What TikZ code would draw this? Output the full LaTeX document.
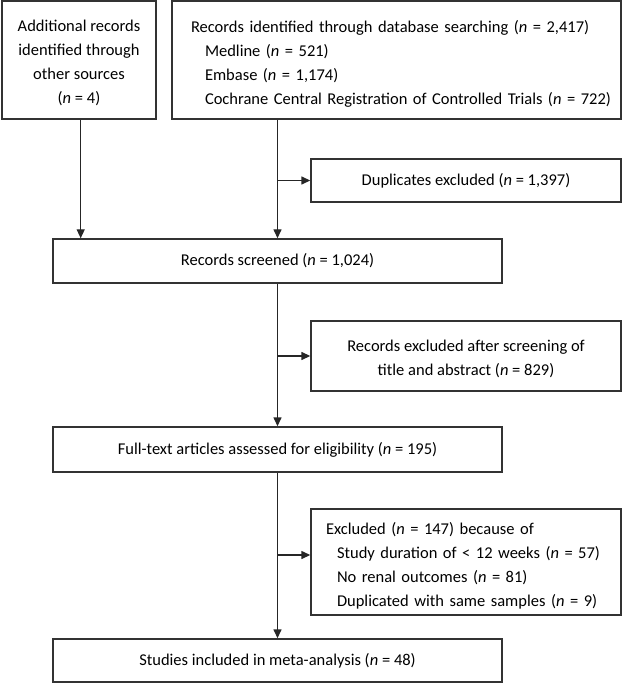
\documentclass[tikz,border=0pt]{standalone}
\usepackage{fontspec}
\setmainfont{Carlito}
\usetikzlibrary{arrows.meta,calc}
\newcommand{\topgap}[1]{\rule{0pt}{#1}}
\begin{document}
\begin{tikzpicture}[x=1pt,y=-1pt,
  box/.style={draw=black!80, line width=1.4pt, inner sep=0pt, text=black,
    font=\fontsize{16.5}{24}\selectfont},
  cbox/.style={box, align=center},
  lbox/.style={box, align=left},
  arr/.style={line width=1.4pt, draw=black!85, -{Triangle[length=9pt,width=8pt]}},
  ln/.style={line width=1.4pt, draw=black!85}]
\useasboundingbox (0,0) rectangle (623,684);

\node[cbox, minimum width=154, minimum height=118] (A) at (79,60)
  {\topgap{18pt}Additional records\\identified through\\other sources\\(\textit{n} = 4)};

\node[lbox, minimum width=449, minimum height=118, inner xsep=19pt, text width=411pt] (B) at (396.5,60)
  {\mbox{\topgap{19pt}Records identified through database searching (\textit{n} = 2,417)}\\
   \mbox{\hspace*{14pt}Medline (\textit{n} = 521)}\\
   \mbox{\hspace*{14pt}Embase (\textit{n} = 1,174)}\\
   \mbox{\hspace*{14pt}Cochrane Central Registration of Controlled Trials (\textit{n} = 722)}};

\node[cbox, minimum width=310, minimum height=43] (dup) at (466,180.5)
  {Duplicates excluded (\textit{n} = 1,397)};

\node[cbox, minimum width=449, minimum height=44] (scr) at (277.5,261)
  {Records screened (\textit{n} = 1,024)};

\node[cbox, minimum width=310, minimum height=70] (rex) at (466,356)
  {\topgap{17pt}Records excluded after screening of\\title and abstract (\textit{n} = 829)};

\node[cbox, minimum width=449, minimum height=45] (ft) at (277.5,449.5)
  {Full-text articles assessed for eligibility (\textit{n} = 195)};

\node[lbox, minimum width=310, minimum height=106, inner xsep=15pt, text width=280pt] (exc) at (466,562)
  {\mbox{\topgap{20pt}Excluded (\textit{n} = 147) because of}\\
   \mbox{\hspace*{11pt}Study duration of < 12 weeks (\textit{n} = 57)}\\
   \mbox{\hspace*{11pt}No renal outcomes (\textit{n} = 81)}\\
   \mbox{\hspace*{11pt}Duplicated with same samples (\textit{n} = 9)}};

\node[cbox, minimum width=449, minimum height=43] (fin) at (277.5,660.5)
  {Studies included in meta-analysis (\textit{n} = 48)};

% connectors
\draw[arr] ([xshift=1.7pt]A.south) -- ([xshift=1.7pt]A.south |- scr.north);
\draw[arr] (B.south -| scr.north) -- (scr.north);
\draw[arr] (scr.north |- dup.west) -- (dup.west);

\draw[arr] (scr.south) -- (ft.north);
\draw[arr] (scr.south |- rex.west) -- (rex.west);

\draw[arr] (ft.south) -- (fin.north);
\coordinate (eb) at ([yshift=7pt]exc.west);
\draw[arr] (ft.south |- eb) -- (eb);
\end{tikzpicture}
\end{document}
